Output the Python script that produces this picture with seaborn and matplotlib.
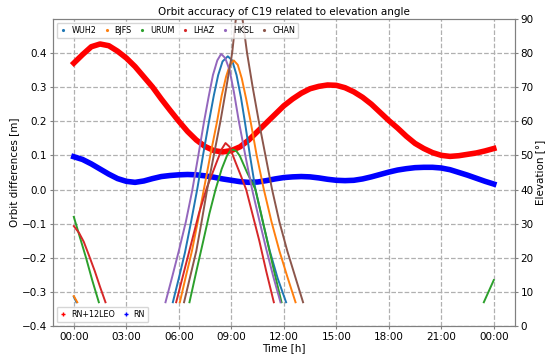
import numpy as np
import pandas as pd
import matplotlib
matplotlib.use('Agg')
import matplotlib.pyplot as plt
from matplotlib.lines import Line2D
import seaborn as sns

# Orbit differences [m], sampled every half hour over the day
hours = np.arange(0, 24.5, 0.5)
rn_12leo = [0.370, 0.395, 0.418, 0.426, 0.421, 0.405, 0.385, 0.360, 0.330, 0.300,
            0.265, 0.232, 0.200, 0.170, 0.145, 0.126, 0.114, 0.110, 0.114, 0.125,
            0.145, 0.170, 0.195, 0.220, 0.245, 0.265, 0.282, 0.295, 0.302, 0.306,
            0.305, 0.298, 0.286, 0.270, 0.250, 0.226, 0.202, 0.180, 0.156, 0.135,
            0.120, 0.108, 0.100, 0.097, 0.099, 0.103, 0.107, 0.113, 0.120]
rn = [0.096, 0.088, 0.075, 0.060, 0.045, 0.032, 0.024, 0.021, 0.025, 0.032,
      0.038, 0.041, 0.043, 0.044, 0.043, 0.040, 0.036, 0.031, 0.027, 0.023,
      0.021, 0.022, 0.026, 0.031, 0.035, 0.037, 0.038, 0.037, 0.034, 0.030,
      0.027, 0.026, 0.027, 0.031, 0.037, 0.044, 0.051, 0.057, 0.061, 0.064,
      0.065, 0.065, 0.063, 0.058, 0.050, 0.042, 0.033, 0.024, 0.016]

# Elevation passes per station: (time [h], elevation [deg])
wuh2 = [([0.0, 0.15], [8.6, 7.0]),
        ([5.66, 6.0, 6.35, 6.7, 7.05, 7.4, 7.71, 8.0, 8.25, 8.5, 8.8, 9.05, 9.3,
          9.55, 9.77, 10.05, 10.38, 10.8, 11.2, 11.65, 12.13],
         [7, 14, 21.5, 30.5, 40, 50.5, 59.5, 67.5, 73.5, 77.5, 79, 77.8, 73.5,
          67, 60, 50.5, 40, 30.5, 22, 14, 7])]
bjfs = [([0.0, 0.2], [8.8, 7.0]),
        ([6.06, 6.4, 6.75, 7.1, 7.43, 7.8, 8.19, 8.45, 8.7, 8.92, 9.14, 9.37, 9.6,
          9.85, 10.1, 10.45, 10.86, 11.3, 11.75, 12.2, 12.67],
         [7, 14.5, 22, 31, 40, 50, 60, 67.5, 73, 76.5, 77.8, 76.5, 72.5,
          66.5, 60, 50, 40, 30.5, 22, 14.5, 7])]
urum = [([0.0, 0.35, 0.7, 1.05, 1.43], [32, 26, 20, 13.5, 7]),
        ([6.61, 7.0, 7.4, 7.75, 8.1, 8.45, 8.76, 8.95, 9.1, 9.3, 9.49, 9.9,
          10.38, 10.7, 11.05, 11.45, 11.87],
         [7, 16, 25, 33, 40, 46, 50, 51.4, 51.7, 51.2, 49.8, 45,
          40, 33, 25, 16, 7]),
        ([23.43, 24.0], [7, 13.5])]
lhaz = [([0.0, 0.3, 0.57, 0.86, 1.2, 1.5, 1.81], [29.3, 27.3, 24.7, 20.8, 16.1, 11.5, 7]),
        ([5.85, 6.3, 6.75, 7.15, 7.6, 7.9, 8.2, 8.45, 8.67, 8.9, 9.24, 9.55,
          9.85, 10.2, 10.6, 11.0, 11.43],
         [7, 16, 25, 33, 40.5, 44.5, 48.5, 51.8, 53.6, 52.5, 48, 44,
          40, 33, 25, 16, 7])]
hksl = [([5.24, 5.6, 6.0, 6.4, 6.76, 7.1, 7.43, 7.7, 7.95, 8.2, 8.42, 8.65, 8.9,
          9.15, 9.43, 9.8, 10.19, 10.6, 11.0, 11.4, 11.81],
         [7, 14, 22, 30.5, 39.5, 49.5, 59.5, 67, 73.5, 77.8, 79.7, 78.5, 75,
          68.5, 60, 50, 40, 31, 22.5, 14.5, 7])]
chan = [([6.3, 6.65, 7.0, 7.3, 7.62, 8.0, 8.38, 8.72, 9.05, 9.25, 9.45, 9.65, 9.9,
          10.22, 10.57, 10.95, 11.33, 11.75, 12.2, 12.65, 13.1],
         [7, 14.5, 22, 30.5, 40, 50, 60, 70, 80, 89.5, 95, 89.5, 80,
          70, 60, 50, 40, 30.5, 22, 14.5, 7])]

stations = ['WUH2', 'BJFS', 'URUM', 'LHAZ', 'HKSL', 'CHAN']
passes = [wuh2, bjfs, urum, lhaz, hksl, chan]
tick_hours = [0, 3, 6, 9, 12, 15, 18, 21, 24]
tick_labels = ['00:00', '03:00', '06:00', '09:00', '12:00', '15:00', '18:00', '21:00', '00:00']

rows = []
for name, segs in zip(stations, passes):
    for k, (t, e) in enumerate(segs):
        for ti, ei in zip(t, e):
            rows.append({'hour': ti, 'elev': ei, 'station': name, 'pass': f'{name}{k}'})
elev_df = pd.DataFrame(rows)

palette = dict(zip(stations, sns.color_palette('tab10', 6)))

plt.rcParams['font.size'] = 7.5
fig, ax = plt.subplots(figsize=(5.5, 3.6), dpi=100)
fig.subplots_adjust(left=0.096, right=0.936, bottom=0.094, top=0.948)

sns.lineplot(x=hours, y=rn_12leo, color='red', linewidth=4, ax=ax)
sns.lineplot(x=hours, y=rn, color='blue', linewidth=4, ax=ax)
ax.set_ylim(-0.4, 0.5)
ax.set_yticks(np.arange(-0.4, 0.41, 0.1))
ax.set_xticks(tick_hours)
ax.set_xticklabels(tick_labels)
ax.set_xlabel('Time [h]', labelpad=1)
ax.set_ylabel('Orbit differences [m]', labelpad=2)
ax.set_title('Orbit accuracy of C19 related to elevation angle', fontsize=7.5, pad=3)
ax.grid(True, linestyle='--', color='#b0b0b0', linewidth=0.9)
ax.set_axisbelow(True)

ax2 = ax.twinx()
sns.lineplot(data=elev_df, x='hour', y='elev', hue='station', units='pass',
             estimator=None, palette=palette, linewidth=1.4, legend=False,
             sort=False, ax=ax2)
ax2.set_ylim(0, 90)
ax2.set_yticks(np.arange(0, 91, 10))
ax2.set_ylabel('Elevation [°]', labelpad=1)

for a in (ax, ax2):
    for s in a.spines.values():
        s.set_color('#808080')
    a.tick_params(colors='#808080', labelcolor='black', labelsize=7.5,
                  length=2.5, pad=1.5)

leg_kw = dict(fontsize=5.8, handlelength=0.8, handletextpad=0.6, columnspacing=0.9)
st_handles = [Line2D([], [], marker='.', ls='', color=palette[s], markersize=2.5) for s in stations]
ax2.legend(st_handles, stations, loc='upper left', ncol=6, **leg_kw)
rn_handles = [Line2D([], [], marker='+', ls='', color='red', markersize=3.5, mew=1),
              Line2D([], [], marker='+', ls='', color='blue', markersize=3.5, mew=1)]
ax.legend(rn_handles, ['RN+12LEO', 'RN'], loc='lower left', ncol=2, **leg_kw)

fig.savefig('out.png', dpi=100)
